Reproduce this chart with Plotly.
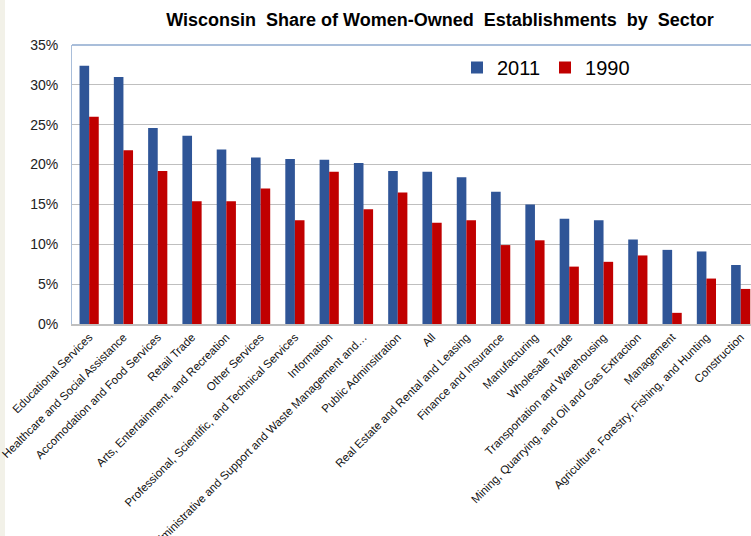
import plotly.graph_objects as go

sectors = [
    "Educational Services",
    "Healthcare and Social Assistance",
    "Accomodation and Food Services",
    "Retail Trade",
    "Arts, Entertainment, and Recreation",
    "Other Services",
    "Professional, Scientific, and Technical Services",
    "Information",
    "Administrative and Support and Waste Management and…",
    "Public Adminsitration",
    "All",
    "Real Estate and Rental and Leasing",
    "Finance and Insurance",
    "Manufacturing",
    "Wholesale Trade",
    "Transportation and Warehousing",
    "Mining, Quarrying, and Oil and Gas Extraction",
    "Management",
    "Agriculture, Forestry, Fishing, and Hunting",
    "Construction",
]
share_2011 = [32.4, 31.0, 24.6, 23.6, 21.9, 20.9, 20.7, 20.6, 20.2, 19.2,
              19.1, 18.4, 16.6, 15.0, 13.2, 13.0, 10.6, 9.3, 9.1, 7.4]
share_1990 = [26.0, 21.8, 19.2, 15.4, 15.4, 17.0, 13.0, 19.1, 14.4, 16.5,
              12.7, 13.0, 9.9, 10.5, 7.2, 7.8, 8.6, 1.4, 5.7, 4.4]

font = "Arial, Liberation Sans, sans-serif"

fig = go.Figure()
fig.add_trace(go.Bar(x=sectors, y=[v / 100 for v in share_2011], name="2011",
                     marker=dict(color="#2F5597", line=dict(width=0))))
fig.add_trace(go.Bar(x=sectors, y=[v / 100 for v in share_1990], name="1990",
                     marker=dict(color="#C00000", line=dict(width=0))))

fig.update_layout(
    width=751,
    height=536,
    margin=dict(l=72, r=0, t=45, b=212, autoexpand=False),
    paper_bgcolor="white",
    plot_bgcolor="white",
    barmode="group",
    bargap=0.44,
    bargroupgap=0,
    font=dict(family=font, color="#000000"),
    title=dict(
        text="<b>Wisconsin  Share of Women-Owned  Establishments  by  Sector</b>",
        x=440 / 751, xref="container", xanchor="center",
        y=1 - 20 / 536, yref="container", yanchor="middle",
        font=dict(size=18, family=font),
    ),
    legend=dict(
        orientation="h", x=(457 - 72) / 679, y=1 - 3 / 279,
        xanchor="left", yanchor="top",
        font=dict(size=20, family=font), bgcolor="rgba(0,0,0,0)",
        itemwidth=30,
    ),
    showlegend=True,
)

fig.update_yaxes(
    range=[0, 0.35], dtick=0.05, tickformat=".0%",
    showgrid=True, gridcolor="#BFBFBF", gridwidth=1,
    showline=True, linecolor="#A9BEDA", linewidth=1,
    ticks="", ticklabelstandoff=10, automargin=False,
    tickfont=dict(size=14, family=font, color="#222222"),
    zeroline=False,
)
fig.update_xaxes(
    range=[-0.5, 19.3], tickangle=-45, automargin=False,
    showline=True, linecolor="#BFBFBF", linewidth=2,
    tickfont=dict(size=11.5, family=font, color="#111111"),
    ticks="",
)

# light blue top border of the plot area
fig.add_shape(type="line", xref="paper", yref="paper", x0=0, x1=1, y0=1, y1=1,
              line=dict(color="#A9BEDA", width=2))
# pale strip along the left edge of the page
fig.add_shape(type="rect", xref="paper", yref="paper",
              x0=-72 / 679, x1=-67 / 679, y0=-212 / 279, y1=1 + 45 / 279,
              fillcolor="#F2F1E8", line=dict(width=0), layer="below")

fig.write_html("out.html", config={"displayModeBar": False},
               post_script="document.body.style.margin='0px';")
